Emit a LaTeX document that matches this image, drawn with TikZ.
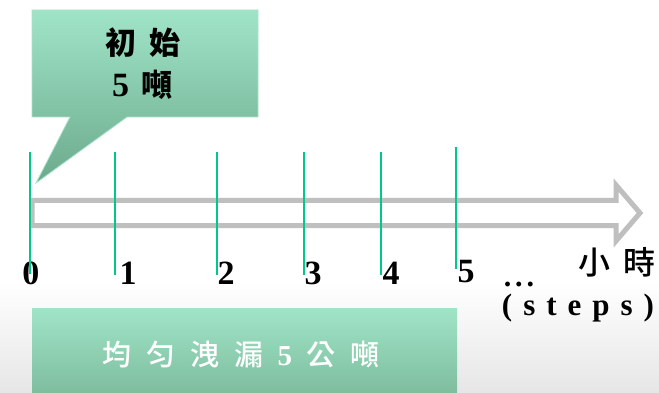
\documentclass[tikz,border=0pt]{standalone}
\usepackage{fontspec}
\setmainfont{Liberation Serif}
\newfontfamily\cjk{Noto Sans CJK TC}
\newfontfamily\cjkm{Noto Sans CJK TC}[UprightFont={* Medium}]
\definecolor{tickgreen}{HTML}{00C88C}
\definecolor{arrowgrey}{HTML}{BFBFBF}
\definecolor{boxtop}{HTML}{A0E4C8}
\definecolor{boxbot}{HTML}{7CBA9B}
\definecolor{tipcol}{HTML}{6CAA8C}
\definecolor{boxedge}{HTML}{A8E2CA}
\definecolor{bggrey}{HTML}{E6E6E6}
\begin{document}
\begin{tikzpicture}[x=1pt,y=1pt,
  tickline/.style={tickgreen, line width=2.6pt},
  digit/.style={font=\fontsize{34}{34}\selectfont\bfseries, anchor=base, inner sep=0pt},
  plain/.style={inner sep=0pt}]
\useasboundingbox (0,0) rectangle (659,-393);
\clip (0,0) rectangle (659,-393);
% background
\fill[white] (0,0) rectangle (659,-393);
\shade[top color=white, bottom color=bggrey] (0,-282) rectangle (659,-393);
% callout
\shadedraw[top color=boxtop, bottom color=tipcol, draw=boxedge, line width=0.8pt]
  (32,-10) -- (258,-10) -- (258,-117) -- (127,-117) -- (36,-183) -- (70,-117) -- (32,-117) -- cycle;
\node[plain] (title) at (143,-43) {\cjk\bfseries\fontsize{31}{31}\selectfont 初\hspace{14pt}始};
\node[plain] (amount) at (142,-85) {\fontsize{34}{34}\selectfont\bfseries 5\hspace{12pt}{\cjk\fontsize{31}{31}\selectfont 噸}};
% hollow arrow
\draw[arrowgrey, line width=5pt, fill=white]
  (32,-200.5) -- (616,-200.5) -- (616,-185) -- (640,-213) -- (616,-241) -- (616,-225.5) -- (32,-225.5) -- cycle;
% labels
\node[digit] (l0) at (31,-284) {0};
\node[digit] (l1) at (128,-284) {1};
\node[digit] (l2) at (226,-284) {2};
\node[digit] (l3) at (313,-284) {3};
\node[digit] (l4) at (391,-284) {4};
\node[digit] (l5) at (466,-282) {5};
\node[digit, font=\fontsize{30}{30}\selectfont\bfseries] (dots) at (519,-286) {.\hspace{4pt}.\hspace{4pt}.};
\node[plain] (unit) at (617,-262) {\cjkm\fontsize{32}{32}\selectfont 小\hspace{13pt}時};
\node[digit, font=\fontsize{31}{31}\selectfont\bfseries] (steps) at (578,-315)
  {(\hspace{11pt}s\hspace{11pt}t\hspace{11pt}e\hspace{11pt}p\hspace{11pt}s\hspace{11pt})};
% ticks
\foreach \n/\x/\ya/\yb in {0/30/152/274, 1/115/152/275, 2/217/152/275, 3/304/152/275, 4/381/152/275, 5/456/147/269} {
  \coordinate (top\n) at (\x,-\ya);
  \coordinate (bot\n) at (\x,-\yb);
  \draw[tickline] (top\n) -- (bot\n);
}
% bottom box
\shade[top color=boxtop, bottom color=boxbot] (32,-308) rectangle (457,-400);
\node[plain, text=white] (leak) at (241,-355) {\cjkm\fontsize{29}{29}\selectfont 均\hspace{15pt}匀\hspace{15pt}洩\hspace{15pt}漏\hspace{14pt}{\rmfamily\bfseries 5}\hspace{14pt}公\hspace{15pt}噸};
\end{tikzpicture}
\end{document}
